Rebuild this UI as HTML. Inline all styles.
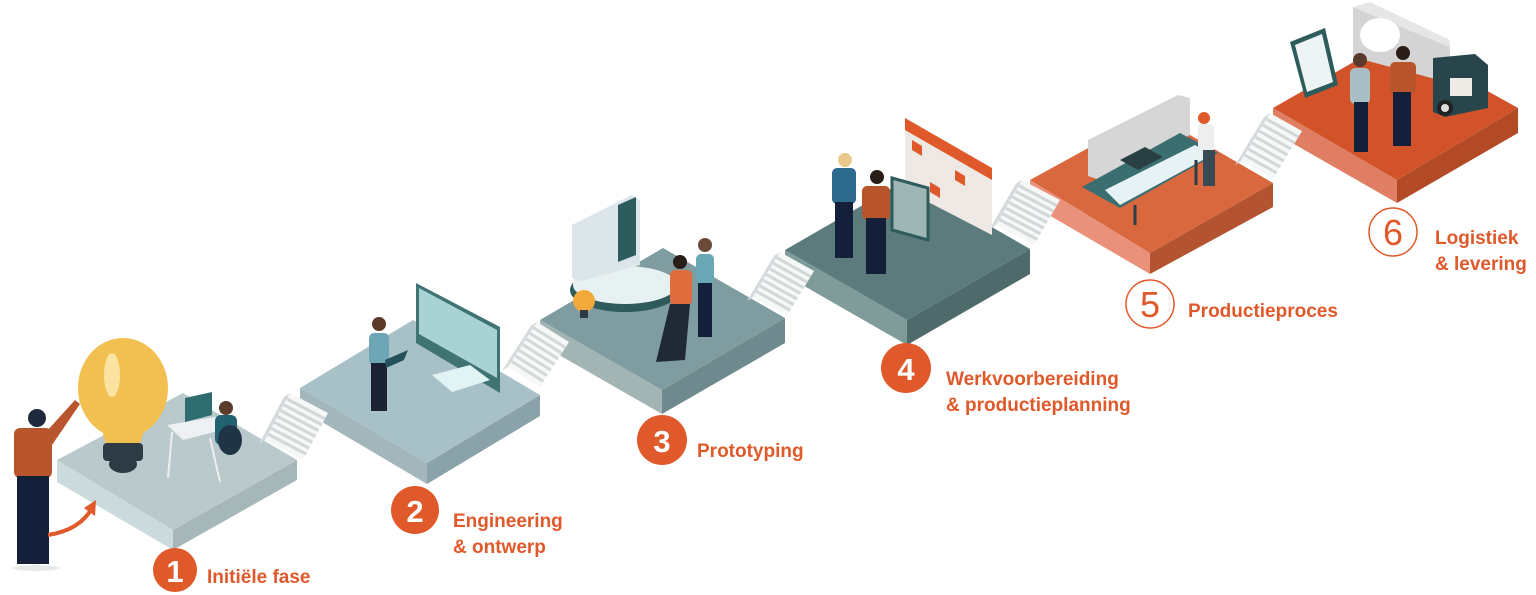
<!DOCTYPE html>
<html><head><meta charset="utf-8"><style>
html,body{margin:0;padding:0;background:#fff;}
svg{display:block;}
.t{font-family:"Liberation Sans",sans-serif;fill:#e0592a;font-size:19px;font-weight:bold;}
.n{font-family:"Liberation Sans",sans-serif;font-size:31px;font-weight:bold;text-anchor:middle;}
</style></head><body>
<svg width="1536" height="595" viewBox="0 0 1536 595" xmlns="http://www.w3.org/2000/svg">
<defs>
<g id="st">
<polygon points="0,0 0,1 -0.08,1.12 -0.08,0.12" fill="#d5dadc"/>
<polygon points="0,0 1,0 1,1 0,1" fill="#f6f7f7"/>
<g stroke="#d2d7d9" stroke-width="3">
<line x1="0" y1="0.125" x2="1" y2="0.125" vector-effect="non-scaling-stroke"/>
<line x1="0" y1="0.25" x2="1" y2="0.25" vector-effect="non-scaling-stroke"/>
<line x1="0" y1="0.375" x2="1" y2="0.375" vector-effect="non-scaling-stroke"/>
<line x1="0" y1="0.5" x2="1" y2="0.5" vector-effect="non-scaling-stroke"/>
<line x1="0" y1="0.625" x2="1" y2="0.625" vector-effect="non-scaling-stroke"/>
<line x1="0" y1="0.75" x2="1" y2="0.75" vector-effect="non-scaling-stroke"/>
<line x1="0" y1="0.875" x2="1" y2="0.875" vector-effect="non-scaling-stroke"/>
</g>
</g>
</defs>

<!-- Platform 1 -->
<polygon points="57,460 173,530 173,550 57,482" fill="#cbdadc"/>
<polygon points="173,530 297,460 297,480 173,550" fill="#a6b7ba"/>
<polygon points="57,460 183,393 297,460 173,530" fill="#b9c9cc"/>
<!-- Platform 2 -->
<polygon points="300,388 427,463 427,484 300,409" fill="#a2b6bb"/>
<polygon points="427,463 540,395 540,416 427,484" fill="#8aa2a9"/>
<polygon points="300,388 413,320 540,395 427,463" fill="#a8c1c8"/>
<!-- Platform 3 -->
<polygon points="540,320 662,390 662,414 540,344" fill="#a3b4b5"/>
<polygon points="662,390 785,318 785,343 662,414" fill="#6f8a8e"/>
<polygon points="540,320 663,248 785,318 662,390" fill="#7f9ca1"/>
<!-- Platform 4 -->
<polygon points="785,250 907,320 907,345 785,275" fill="#7f9c9b"/>
<polygon points="907,320 1030,249 1030,274 907,345" fill="#4e6a6b"/>
<polygon points="785,250 908,179 1030,249 907,320" fill="#5b7b7d"/>
<!-- Platform 5 -->
<polygon points="1030,180 1150,253 1150,274 1030,204" fill="#e9917a"/>
<polygon points="1150,253 1273,183 1273,207 1150,274" fill="#b3532f"/>
<polygon points="1030,180 1152,113 1273,183 1150,253" fill="#d9683f"/>
<!-- Platform 6 -->
<polygon points="1273,108 1397,180 1397,203 1273,132" fill="#e07e63"/>
<polygon points="1397,180 1518,108 1518,133 1397,203" fill="#b24a26"/>
<polygon points="1273,108 1394,39 1518,108 1397,180" fill="#d2522a"/>

<!-- Stairs -->
<use href="#st" transform="matrix(38,20,-25,47,290,393)"/>
<use href="#st" transform="matrix(32,20,-29,45,537,322)"/>
<use href="#st" transform="matrix(34,19,-27,45,780,252)"/>
<use href="#st" transform="matrix(38,20,-26,45,1022,180)"/>
<use href="#st" transform="matrix(32,18,-29,48,1270,113)"/>

<!-- P1 illustration: bulb -->
<ellipse cx="123" cy="388" rx="45" ry="50" fill="#f2c050"/>
<polygon points="98,415 148,415 140,445 106,445" fill="#f2c050"/>
<ellipse cx="112" cy="375" rx="8" ry="22" fill="#fae2a0"/>
<rect x="103" y="443" width="40" height="18" rx="4" fill="#2e3a44"/>
<ellipse cx="123" cy="464" rx="14" ry="9" fill="#2e3a44"/>
<!-- man -->
<circle cx="37" cy="418" r="9" fill="#1e2a3c"/>
<rect x="14" y="428" width="38" height="50" rx="6" fill="#b9552c"/>
<polygon points="46,432 75,400 80,404 52,445" fill="#b9552c"/>
<rect x="17" y="476" width="32" height="88" fill="#14203a"/>
<ellipse cx="36" cy="568" rx="24" ry="3" fill="#e6e9ea"/>
<path d="M48,535 Q80,530 92,508" stroke="#e0592a" stroke-width="4" fill="none"/>
<polygon points="84,508 96,500 95,516" fill="#e0592a"/>
<!-- desk person -->
<polygon points="167,425 215,417 230,428 183,440" fill="#eef1f3"/>
<polygon points="185,398 212,392 212,415 185,422" fill="#2e6c70"/>
<circle cx="226" cy="408" r="7" fill="#5a3b2b"/>
<rect x="215" y="415" width="22" height="30" rx="6" fill="#226170"/>
<ellipse cx="230" cy="440" rx="12" ry="15" fill="#1f3445"/>
<line x1="172" y1="432" x2="168" y2="478" stroke="#eee" stroke-width="2"/>
<line x1="210" y1="438" x2="220" y2="482" stroke="#eee" stroke-width="2"/>

<!-- P2 monitor & person -->
<polygon points="416,283 500,327 500,393 416,343" fill="#3f7374"/>
<polygon points="419,288 497,330 497,378 419,334" fill="#a8d2d3"/>
<polygon points="432,375 470,365 490,380 452,392" fill="#e2f3f3"/>
<circle cx="379" cy="324" r="7" fill="#5a3b2b"/>
<rect x="369" y="333" width="20" height="32" rx="5" fill="#6ea6b5"/>
<rect x="371" y="363" width="16" height="48" fill="#1b2233"/>
<polygon points="385,360 408,350 404,360 386,368" fill="#25525a"/>

<!-- P3 -->
<ellipse cx="625" cy="290" rx="55" ry="22" fill="#2e5b5c"/>
<ellipse cx="625" cy="285" rx="52" ry="19" fill="#e8f1f2"/>
<polygon points="572,225 632,195 640,200 640,265 578,282 572,278" fill="#dce6ea"/>
<polygon points="618,205 636,197 636,255 618,262" fill="#2e5b5c"/>
<circle cx="584" cy="301" r="11" fill="#f2a83a"/>
<rect x="580" y="310" width="8" height="8" fill="#2e3a44"/>
<circle cx="680" cy="262" r="7" fill="#2a1c16"/>
<rect x="670" y="270" width="22" height="35" rx="5" fill="#e06d3e"/>
<polygon points="670,304 690,304 685,360 656,362" fill="#1f2a36"/>
<circle cx="705" cy="245" r="7" fill="#6b4a3a"/>
<rect x="696" y="254" width="18" height="30" rx="5" fill="#6aa8b6"/>
<rect x="698" y="283" width="14" height="54" fill="#14203a"/>

<!-- P4 -->
<polygon points="905,118 992,168 992,235 905,190" fill="#efe9e6"/>
<polygon points="905,118 992,168 992,180 905,130" fill="#e0592a"/>
<polygon points="912,140 922,146 922,156 912,150" fill="#e0592a"/>
<polygon points="955,170 965,176 965,186 955,180" fill="#e0592a"/>
<polygon points="930,182 940,188 940,198 930,192" fill="#e0592a"/>
<polygon points="892,178 928,188 928,240 892,230" fill="#9eb6b6" stroke="#2e5b5c" stroke-width="3"/>
<circle cx="845" cy="160" r="7" fill="#e8c98a"/>
<rect x="832" y="168" width="24" height="36" rx="5" fill="#2f6b8e"/>
<rect x="835" y="202" width="18" height="56" fill="#14203a"/>
<circle cx="877" cy="177" r="7" fill="#2a1c16"/>
<rect x="862" y="186" width="28" height="34" rx="5" fill="#b9552c"/>
<rect x="866" y="218" width="20" height="56" fill="#14203a"/>

<!-- P5 -->
<polygon points="1088,140 1178,95 1190,98 1190,135 1100,180 1088,176" fill="#d6d6d6"/>
<polygon points="1082,187 1180,133 1218,153 1120,208" fill="#3b6e70"/>
<polygon points="1105,190 1195,145 1212,155 1120,205" fill="#e6f2f3"/>
<polygon points="1120,160 1145,147 1163,157 1138,170" fill="#2a3f44"/>
<line x1="1135" y1="205" x2="1135" y2="225" stroke="#2a3f44" stroke-width="3"/>
<line x1="1196" y1="160" x2="1196" y2="185" stroke="#2a3f44" stroke-width="3"/>
<circle cx="1204" cy="118" r="6" fill="#e0592a"/>
<rect x="1198" y="124" width="16" height="30" rx="4" fill="#eee"/>
<rect x="1203" y="150" width="12" height="36" fill="#3a4a55"/>

<!-- P6 -->
<polygon points="1353,7 1450,47 1450,83 1353,57" fill="#d4d4d4"/>
<polygon points="1353,7 1370,2 1450,40 1450,47" fill="#e6e6e6"/>
<polygon points="1433,58 1475,54 1488,65 1488,108 1445,117 1433,112" fill="#27454a"/>
<rect x="1450" y="78" width="22" height="18" fill="#eeeae6"/>
<circle cx="1445" cy="108" r="8" fill="#222"/>
<circle cx="1445" cy="108" r="4" fill="#ddd"/>
<ellipse cx="1380" cy="35" rx="20" ry="17" fill="#fff"/>
<polygon points="1290,42 1325,28 1338,85 1305,98" fill="#2e5b5c"/>
<polygon points="1295,45 1322,34 1333,82 1307,92" fill="#eef3f6"/>
<circle cx="1360" cy="60" r="7" fill="#5a3b2b"/>
<rect x="1350" y="68" width="20" height="36" rx="5" fill="#a9bfc6"/>
<rect x="1354" y="102" width="14" height="50" fill="#14203a"/>
<circle cx="1403" cy="53" r="7" fill="#2a1c16"/>
<rect x="1390" y="62" width="26" height="32" rx="5" fill="#b9552c"/>
<rect x="1393" y="92" width="18" height="54" fill="#14203a"/>

<!-- Labels -->
<circle cx="175" cy="570" r="22" fill="#e0592a"/>
<text x="175" y="582" class="n" fill="#fff">1</text>
<text x="207" y="583" class="t">Initiële fase</text>

<circle cx="415" cy="510" r="24" fill="#e0592a"/>
<text x="415" y="522" class="n" fill="#fff">2</text>
<text x="453" y="527" class="t">Engineering</text>
<text x="453" y="553" class="t">&amp; ontwerp</text>

<circle cx="662" cy="440" r="25" fill="#e0592a"/>
<text x="662" y="452" class="n" fill="#fff">3</text>
<text x="697" y="457" class="t">Prototyping</text>

<circle cx="906" cy="368" r="25" fill="#e0592a"/>
<text x="906" y="380" class="n" fill="#fff">4</text>
<text x="946" y="385" class="t">Werkvoorbereiding</text>
<text x="946" y="411" class="t">&amp; productieplanning</text>

<circle cx="1150" cy="304" r="24" fill="#fff" stroke="#e0592a" stroke-width="1.5"/>
<text x="1150" y="317" class="n" fill="#e0592a" style="font-weight:normal;font-size:36px">5</text>
<text x="1188" y="317" class="t">Productieproces</text>

<circle cx="1393" cy="232" r="24" fill="#fff" stroke="#e0592a" stroke-width="1.5"/>
<text x="1393" y="245" class="n" fill="#e0592a" style="font-weight:normal;font-size:36px">6</text>
<text x="1435" y="244" class="t">Logistiek</text>
<text x="1435" y="270" class="t">&amp; levering</text>
</svg>
</body></html>
